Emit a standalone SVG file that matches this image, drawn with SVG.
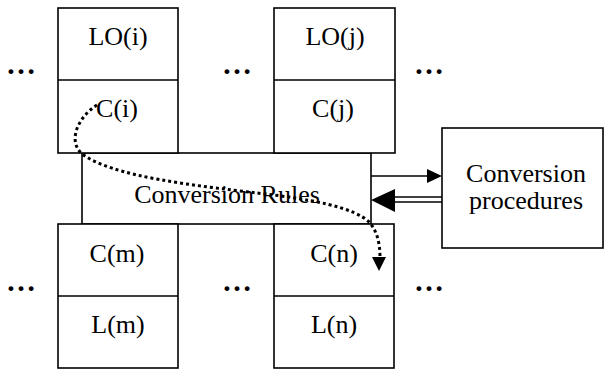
<svg xmlns="http://www.w3.org/2000/svg" width="606" height="369" viewBox="0 0 606 369">
<style>
.box{fill:#fff;stroke:#000;stroke-width:1.6}
.ln{stroke:#000;stroke-width:1.6;fill:none}
.t{font-family:"Liberation Serif","Times New Roman",serif;font-size:26px;fill:#000;text-anchor:middle}
.d{font-family:"Liberation Serif","Times New Roman",serif;font-size:30px;font-weight:bold;fill:#000;text-anchor:middle}
</style>
<rect width="606" height="369" fill="#fff"/>
<g id="rules">
<rect class="box" x="82" y="153" width="289" height="71"/>
<text class="t" x="227" y="203">Conversion Rules</text>
</g>
<g id="node-i">
<rect class="box" x="58" y="8" width="120" height="145"/>
<line class="ln" x1="58" y1="80" x2="178" y2="80"/>
<text class="t" x="118" y="45">LO(i)</text>
<text class="t" x="117" y="117">C(i)</text>
</g>
<g id="node-j">
<rect class="box" x="274" y="8" width="121" height="145"/>
<line class="ln" x1="274" y1="80" x2="395" y2="80"/>
<text class="t" x="335" y="45">LO(j)</text>
<text class="t" x="333" y="117">C(j)</text>
</g>
<g id="node-m">
<rect class="box" x="58" y="224" width="120" height="144"/>
<line class="ln" x1="58" y1="296" x2="178" y2="296"/>
<text class="t" x="117" y="262">C(m)</text>
<text class="t" x="118" y="333">L(m)</text>
</g>
<g id="node-n">
<rect class="box" x="274" y="224" width="120" height="144"/>
<line class="ln" x1="274" y1="296" x2="394" y2="296"/>
<text class="t" x="334" y="262">C(n)</text>
<text class="t" x="334" y="333">L(n)</text>
</g>
<g id="procedures">
<rect class="box" x="442" y="128" width="161" height="120"/>
<text class="t" x="526" y="182">Conversion</text>
<text class="t" x="526" y="209">procedures</text>
</g>
<g id="ellipses">
<text class="d" x="21" y="74">…</text>
<text class="d" x="237" y="74">…</text>
<text class="d" x="429" y="74">…</text>
<text class="d" x="21" y="291">…</text>
<text class="d" x="237" y="291">…</text>
<text class="d" x="429" y="291">…</text>
</g>
<g id="connectors">
<line class="ln" x1="371" y1="176" x2="428" y2="176"/>
<polygon points="442,176 427,169 427,183" fill="#000"/>
<line class="ln" x1="394" y1="197" x2="442" y2="197"/>
<line class="ln" x1="394" y1="202" x2="442" y2="202"/>
<polygon points="371,200 395,189 395,212" fill="#000"/>
<path d="M97,105 C78,117 68,140 81,153 C110,177 200,186 257,193 C310,199 355,207 370,223 C378,233 380,245 380,258" fill="none" stroke="#000" stroke-width="3" stroke-dasharray="3 3"/>
<polygon points="372,257 386,257 379,271" fill="#000"/>
</g>
</svg>
